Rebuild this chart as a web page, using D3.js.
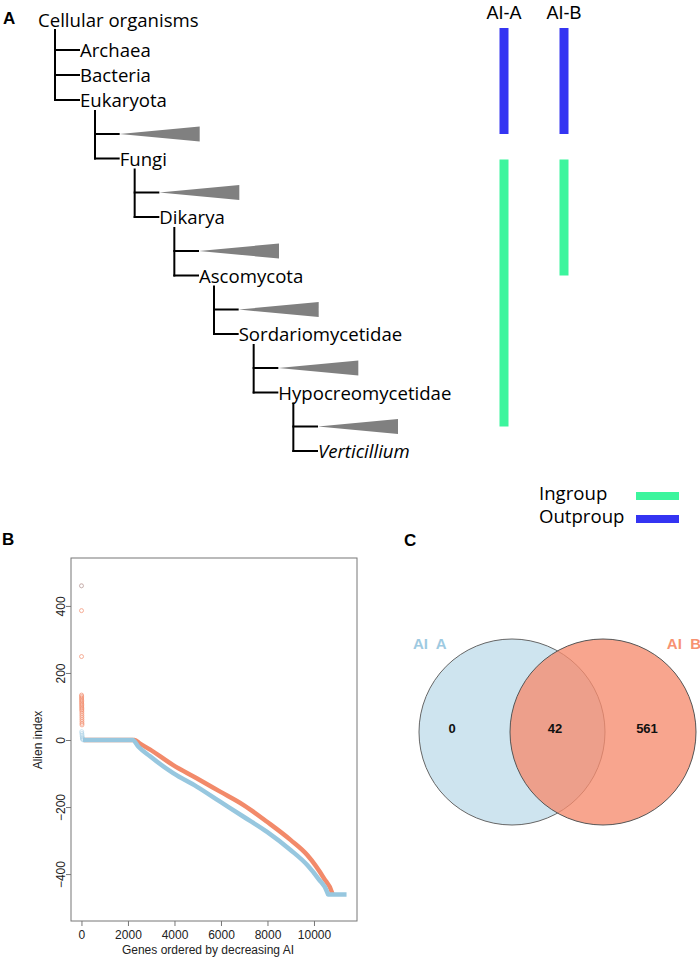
<!DOCTYPE html>
<html><head><meta charset="utf-8">
<script src="https://cdn.jsdelivr.net/npm/d3@7"></script>
<style>body{margin:0;background:#fff}svg{display:block}</style>
</head><body>
<svg id="c" width="700" height="962"></svg>
<script>
// ---------- DATA ----------
const rootTaxon = "Cellular organisms";
const rootChildren = ["Archaea", "Bacteria", "Eukaryota"];
const lineage = ["Eukaryota", "Fungi", "Dikarya", "Ascomycota", "Sordariomycetidae", "Hypocreomycetidae", "Verticillium"];
const aiColumns = ["AI-A", "AI-B"];
// bars: column, group, from taxon, to taxon (collapsed sister clade = "other <taxon>")
const aiBars = [
  {col: "AI-A", group: "Outgroup", from: "Cellular organisms", to: "other Eukaryota"},
  {col: "AI-A", group: "Ingroup", from: "Fungi", to: "other Hypocreomycetidae"},
  {col: "AI-B", group: "Outgroup", from: "Cellular organisms", to: "other Eukaryota"},
  {col: "AI-B", group: "Ingroup", from: "Fungi", to: "Ascomycota"}
];
const legendItems = [{label: "Ingroup", group: "Ingroup"}, {label: "Outproup", group: "Outgroup"}];

// Panel B: Alien index curves (gene rank, AI)
const seriesBLine = [[100,0],[2290,0],[2500,-10],[2937,-28],[3944,-75],[4955,-114],[5964,-154],[6973,-194],[7981,-244],[8990,-298],[9710,-343],[10430,-413],[10790,-458],[10800,-461]];
const seriesBPoints = [460,386,249,134,130,126,122,118,114,110,106,102,98,94,90,86,80,74,68,62,56,50,45];
const seriesALine = [[60,0],[2200,0],[2450,-20],[2937,-48],[3944,-99],[4955,-139],[5964,-184],[6973,-229],[7981,-274],[8990,-328],[9710,-373],[10200,-415],[10574,-455],[10600,-461],[11400,-461]];
const seriesAPoints = [460,25,20,15,10,6,3,1];
const xTicks = [0, 2000, 4000, 6000, 8000, 10000];
const yTicks = [-400, -200, 0, 200, 400];

// Panel C: Venn
const vennSets = ["AI  A", "AI  B"];
const vennCounts = [0, 42, 561];

// ---------- STYLE ----------
const svg = d3.select("#c");
const treeFont = "'Open Sans', Lato, sans-serif";
const arial = "'Liberation Sans', Arial, sans-serif";
const groupColor = {Ingroup: "#3cf59d", Outgroup: "#3434f2"};
const colA = "#97c7df", colB = "#f28a6a";

// ---------- PANEL A ----------
const gA = svg.append("g");
gA.append("text").attr("x", 3).attr("y", 24).text("A")
  .style("font", "bold 17px " + arial);

const levelX = d3.scaleLinear().domain([0, 6]).range([80, 318]);
const levelY = d3.scaleLinear().domain([0, 6]).range([100, 451]);
const rootChildY = d3.scalePoint().domain(rootChildren).range([50, 100]);
const wedgeOffset = 34, wedgeLen = 80, wedgeHalf = 7.5, vOff = 15;

function rowY(name) {
  if (name === rootTaxon) return 28;
  if (name.startsWith("other ")) {
    const k = lineage.indexOf(name.slice(6));
    return levelY(k) + wedgeOffset;
  }
  const k = lineage.indexOf(name);
  if (k >= 0) return levelY(k);
  return rootChildY(name);
}

const lineStyle = s => s.attr("stroke", "#000").attr("stroke-width", 2).attr("fill", "none");
const tfs = "18.6px ";

// root
gA.append("text").attr("x", 38).attr("y", 27).text(rootTaxon)
  .style("font", tfs + treeFont);
gA.append("line").attr("x1", 55).attr("x2", 55).attr("y1", 29).attr("y2", rootChildY("Eukaryota") + 1).call(lineStyle);
rootChildren.forEach(c => {
  gA.append("line").attr("x1", 54).attr("x2", 80).attr("y1", rootChildY(c)).attr("y2", rootChildY(c)).call(lineStyle);
  if (c !== "Eukaryota")
    gA.append("text").attr("x", 80).attr("y", rootChildY(c) + 7).text(c).style("font", tfs + treeFont);
});

lineage.forEach((name, k) => {
  gA.append("text").attr("x", levelX(k)).attr("y", levelY(k) + 7).text(name)
    .style("font", (name === "Verticillium" ? "italic " : "") + tfs + treeFont);
  if (k < lineage.length - 1) {
    const vx = levelX(k) + vOff;
    const wy = levelY(k) + wedgeOffset;
    gA.append("line").attr("x1", vx).attr("x2", vx).attr("y1", levelY(k) + 10).attr("y2", levelY(k + 1) + 1).call(lineStyle);
    gA.append("line").attr("x1", vx - 1).attr("x2", levelX(k + 1)).attr("y1", wy).attr("y2", wy).call(lineStyle);
    gA.append("line").attr("x1", vx - 1).attr("x2", levelX(k + 1)).attr("y1", levelY(k + 1)).attr("y2", levelY(k + 1)).call(lineStyle);
    const x0 = levelX(k + 1);
    gA.append("path").attr("d", `M${x0},${wy}L${x0 + wedgeLen},${wy - wedgeHalf}L${x0 + wedgeLen},${wy + wedgeHalf}Z`)
      .attr("fill", "#808080");
  }
});

// AI columns
const colX = d3.scalePoint().domain(aiColumns).range([504, 564]);
aiColumns.forEach(c => {
  gA.append("text").attr("x", colX(c)).attr("y", 19).attr("text-anchor", "middle").text(c)
    .style("font", "18px " + arial);
});
gA.selectAll("rect.ai").data(aiBars).join("rect").attr("class", "ai")
  .attr("x", d => colX(d.col) - 4.5).attr("width", 9)
  .attr("y", d => rowY(d.from) + (d.group === "Ingroup" ? 1 : 0))
  .attr("height", d => rowY(d.to) - rowY(d.from) - (d.group === "Ingroup" ? 1 : 0))
  .attr("fill", d => groupColor[d.group]);

// legend
legendItems.forEach((it, i) => {
  const y = 496 + i * 23;
  gA.append("text").attr("x", 539).attr("y", y + 4).text(it.label).style("font", tfs + treeFont);
  gA.append("rect").attr("x", 636).attr("y", y - 4).attr("width", 43).attr("height", 8).attr("fill", groupColor[it.group]);
});

// ---------- PANEL B ----------
const gB = svg.append("g");
gB.append("text").attr("x", 2).attr("y", 545).text("B").style("font", "bold 17px " + arial);
const xS = d3.scaleLinear().domain([-450, 11850]).range([71, 357]);
const yS = d3.scaleLinear().domain([-540, 543]).range([921, 558]);
const line = d3.line().x(d => xS(d[0])).y(d => yS(d[1])).curve(d3.curveMonotoneX);

gB.append("path").attr("d", line(seriesBLine)).attr("fill", "none").attr("stroke", colB).attr("stroke-width", 4.5);
gB.selectAll("circle.b").data(seriesBPoints).join("circle").attr("class", "b")
  .attr("cx", (d, i) => xS(i + 1)).attr("cy", d => yS(d)).attr("r", 2)
  .attr("fill", "none").attr("stroke", colB).attr("stroke-width", 0.8).attr("opacity", 0.85);
gB.append("path").attr("d", line(seriesALine)).attr("fill", "none").attr("stroke", colA).attr("stroke-width", 4.5);
gB.selectAll("circle.a").data(seriesAPoints).join("circle").attr("class", "a")
  .attr("cx", (d, i) => xS(i * 8 + 1)).attr("cy", d => yS(d)).attr("r", 2)
  .attr("fill", "none").attr("stroke", colA).attr("stroke-width", 0.8).attr("opacity", 0.6);

gB.append("rect").attr("x", 71).attr("y", 558).attr("width", 286).attr("height", 363)
  .attr("fill", "none").attr("stroke", "#777").attr("stroke-width", 1);
const xAx = gB.append("g").attr("transform", "translate(0,921)")
  .call(d3.axisBottom(xS).tickValues(xTicks).tickSize(5).tickPadding(4).tickFormat(d3.format("d")));
xAx.select(".domain").remove();
xAx.selectAll("line").attr("stroke", "#777");
xAx.selectAll("text").style("font", "12px " + arial).attr("fill", "#222");
const yAx = gB.append("g").attr("transform", "translate(71,0)")
  .call(d3.axisLeft(yS).tickValues(yTicks).tickSize(5).tickFormat(d => d < 0 ? "\u2212" + Math.abs(d) : d));
yAx.select(".domain").remove();
yAx.selectAll("line").attr("stroke", "#777");
yAx.selectAll("text").attr("x", null).attr("dy", null).attr("text-anchor", "middle")
  .attr("transform", "translate(-6,0) rotate(-90)").style("font", "12px " + arial).attr("fill", "#222");
gB.append("text").attr("transform", "translate(42,740) rotate(-90)").attr("text-anchor", "middle")
  .text("Alien index").style("font", "12px " + arial).attr("fill", "#222");
gB.append("text").attr("x", 208).attr("y", 954).attr("text-anchor", "middle")
  .text("Genes ordered by decreasing AI").style("font", "12px " + arial).attr("fill", "#222");

// ---------- PANEL C ----------
const gC = svg.append("g");
gC.append("text").attr("x", 404).attr("y", 546).text("C").style("font", "bold 17px " + arial);
const vennX = d3.scalePoint().domain(vennSets).range([512, 603]);
const vr = 93, vcy = 732;
gC.append("circle").attr("cx", vennX(vennSets[0])).attr("cy", vcy).attr("r", vr)
  .attr("fill", "#cee4ef").attr("stroke", "#666").attr("stroke-width", 1);
gC.append("circle").attr("cx", vennX(vennSets[1])).attr("cy", vcy).attr("r", vr)
  .attr("fill", "#f68c6e").attr("fill-opacity", 0.78).attr("stroke", "#555").attr("stroke-width", 1);
gC.append("text").attr("x", 413).attr("y", 649).text(vennSets[0])
  .style("font", "bold 15px " + arial).style("white-space", "pre").attr("fill", "#9ecae1");
gC.append("text").attr("x", 701).attr("y", 649).attr("text-anchor", "end").text(vennSets[1])
  .style("font", "bold 15px " + arial).style("white-space", "pre").attr("fill", "#f79272");
const numX = [452, 555, 647];
vennCounts.forEach((v, i) => {
  gC.append("text").attr("x", numX[i]).attr("y", 733).attr("text-anchor", "middle").text(v)
    .style("font", "bold 13px " + arial).attr("fill", "#111");
});
</script>
</body></html>
